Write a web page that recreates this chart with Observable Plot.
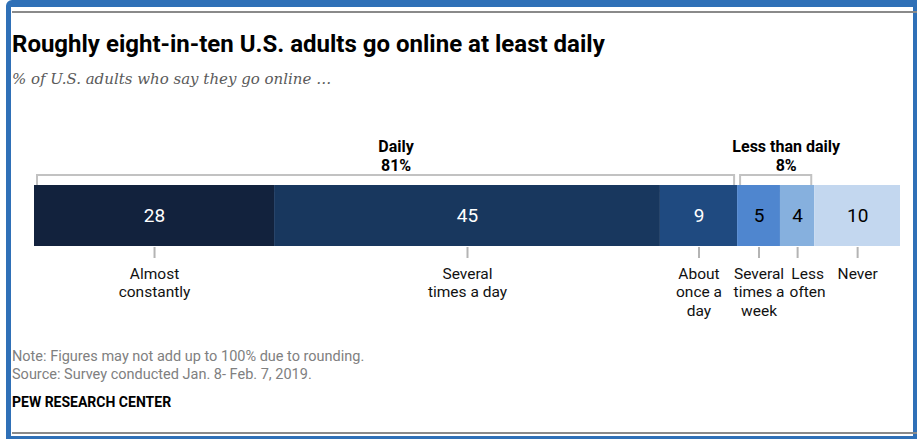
<!DOCTYPE html>
<html>
<head>
<meta charset="utf-8">
<script src="https://cdn.jsdelivr.net/npm/d3@7"></script>
<script src="https://cdn.jsdelivr.net/npm/@observablehq/plot@0.6"></script>
<style>
  html, body { margin: 0; padding: 0; background: #fff; }
  body { width: 921px; height: 442px; position: relative; overflow: hidden; font-family: Roboto, "Liberation Sans", sans-serif; }
  .pg-frame { position: absolute; left: 6px; top: 0; width: 911px; height: 439px; box-sizing: border-box;
           border-left: 5px solid #2f70b7; border-top: 7px solid #2f70b7; border-right: 4px solid #2f70b7; border-bottom: 3px solid #2f70b7;
           border-top-left-radius: 6px; }
  .pg-line { position: absolute; left: 12px; width: 905px; height: 2px; background: #8a8a8a; }
  .pg-title { position: absolute; left: 12px; top: 30px; font-size: 24px; font-weight: 700; color: #000; white-space: nowrap; line-height: 28px; }
  .pg-subtitle { position: absolute; left: 12px; top: 69px; font-family: "DejaVu Serif", serif; font-style: italic; font-size: 15px; color: #5a5a5a; white-space: nowrap; line-height: 20px; }
  .pg-note { position: absolute; left: 12px; font-size: 14.5px; color: #808080; white-space: nowrap; line-height: 17px; }
  .pg-pew { position: absolute; left: 12px; top: 394px; font-size: 14px; font-weight: 700; color: #000; white-space: nowrap; line-height: 17px; }
  #chart { position: absolute; left: 0; top: 100px; }
</style>
</head>
<body>
<div class="pg-frame"></div>
<div class="pg-line" style="top:11px"></div>
<div class="pg-line" style="top:432px"></div>
<div class="pg-title">Roughly eight-in-ten U.S. adults go online at least daily</div>
<div class="pg-subtitle">% of U.S. adults who say they go online …</div>
<div id="chart"></div>
<div class="pg-note" style="top:348px">Note: Figures may not add up to 100% due to rounding.</div>
<div class="pg-note" style="top:366px">Source: Survey conducted Jan. 8- Feb. 7, 2019.</div>
<div class="pg-pew">PEW RESEARCH CENTER</div>
<script>
// ---- data ----
const categories = ["Almost constantly", "Several times a day", "About once a day", "Several times a week", "Less often", "Never"];
const labels = ["Almost\nconstantly", "Several\ntimes a day", "About\nonce a\nday", "Several\ntimes a\nweek", "Less\noften", "Never"];
const values = [28, 45, 9, 5, 4, 10];
const groups = ["Daily", "Daily", "Daily", "Less than daily", "Less than daily", null];
const groupNames = ["Daily", "Less than daily"];
const groupTotals = [81, 8];
const colors = ["#12223d", "#18375e", "#1f4a80", "#4f86cf", "#86b0de", "#c3d7ef"];

// ---- build ----
const ends = d3.cumsum(values);
const data = categories.map((c, i) => ({
  category: c, label: labels[i], value: values[i], group: groups[i], color: colors[i],
  mid: ends[i] - values[i] / 2
}));
const brackets = groupNames.map((g, k) => {
  const idx = data.map((d, i) => i).filter(i => groups[i] === g);
  const x1 = idx[0] === 0 ? 0 : ends[idx[0] - 1];
  const x2 = ends[idx[idx.length - 1]];
  return {name: g, total: groupTotals[k], x1, x2, text: `${g}\n${groupTotals[k]}%`};
});

const height = 210, marginTop = 85, marginBottom = 64;
const barH = height - marginTop - marginBottom;
const shifted = d => d.category === "Less often";
const plain = data.filter(d => !shifted(d));
const moved = data.filter(shifted);

const labelOpts = {x: "mid", text: "label", frameAnchor: "bottom", lineAnchor: "top", dy: 19, fontSize: 15.5, lineHeight: 1.2, fill: "#111"};

const chart = Plot.plot({
  width: 921,
  height,
  marginLeft: 34,
  marginRight: 21,
  marginTop,
  marginBottom,
  x: {domain: [0, d3.sum(values)], axis: null},
  color: {type: "identity"},
  style: {fontFamily: "Roboto, 'Liberation Sans', sans-serif", background: "transparent", overflow: "visible"},
  marks: [
    // brackets (bottom edge hidden behind bar)
    Plot.barX(brackets, {x1: "x1", x2: "x2", insetLeft: 3, insetRight: 3, insetTop: -10, insetBottom: barH - 6,
      fill: "none", stroke: "#c2c2c2", strokeWidth: 2}),
    Plot.text(brackets, {x: d => (d.x1 + d.x2) / 2, text: "text", frameAnchor: "top", lineAnchor: "bottom",
      dy: -15, dx: 10, fontSize: 16, fontWeight: 700, lineHeight: 1.15, fill: "#000"}),
    // bar segments
    Plot.barX(data, Plot.stackX({x: "value", fill: "color"})),
    // tick lines under the bar
    Plot.ruleX(data, {x: "mid", insetTop: barH + 1, insetBottom: -12, stroke: "#b4b4b4", strokeWidth: 2}),
    // value labels
    Plot.text(data, {x: "mid", text: "value", frameAnchor: "middle", fontSize: 19,
      fill: d => d3.lab(d.color).l < 50 ? "#fff" : "#000"}),
    // category labels
    Plot.text(plain, labelOpts),
    Plot.text(moved, {...labelOpts, dx: 10})
  ]
});
document.getElementById("chart").appendChild(chart);
</script>
</body>
</html>
